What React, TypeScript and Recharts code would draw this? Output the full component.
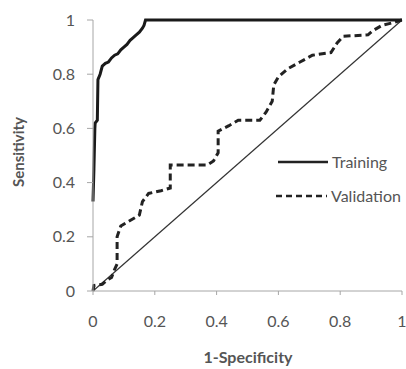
import React from "react";
import { LineChart, Line, XAxis, YAxis } from "recharts";

// ROC curve points (1-specificity, sensitivity)
const trainingX = [0, 0.003, 0.006, 0.007, 0.014, 0.016, 0.023, 0.03, 0.04, 0.05, 0.06, 0.07, 0.08, 0.09, 0.1, 0.11, 0.12, 0.13, 0.14, 0.15, 0.16, 0.165, 0.17, 1];
const trainingY = [0.33, 0.45, 0.6, 0.62, 0.63, 0.78, 0.8, 0.83, 0.84, 0.845, 0.86, 0.87, 0.875, 0.89, 0.9, 0.91, 0.925, 0.935, 0.945, 0.955, 0.97, 0.98, 1, 1];

const validationX = [0, 0.003, 0.03, 0.045, 0.06, 0.07, 0.078, 0.078, 0.09, 0.12, 0.15, 0.16, 0.18, 0.22, 0.25, 0.25, 0.37, 0.39, 0.405, 0.405, 0.44, 0.47, 0.54, 0.56, 0.58, 0.585, 0.6, 0.63, 0.67, 0.71, 0.77, 0.79, 0.81, 0.89, 0.905, 0.935, 0.97, 1];
const validationY = [0, 0.02, 0.025, 0.04, 0.05, 0.08, 0.1, 0.2, 0.24, 0.26, 0.28, 0.33, 0.36, 0.37, 0.38, 0.465, 0.465, 0.48, 0.51, 0.59, 0.61, 0.63, 0.63, 0.66, 0.7, 0.76, 0.79, 0.82, 0.845, 0.87, 0.88, 0.915, 0.94, 0.945, 0.96, 0.98, 0.99, 1];

const diagonalX = [0, 1];
const diagonalY = [0, 1];

const axisTicks = [0, 0.2, 0.4, 0.6, 0.8, 1];

const toPoints = (xs: number[], ys: number[]) => xs.map((x, i) => ({ x, y: ys[i] }));

const training = toPoints(trainingX, trainingY);
const validation = toPoints(validationX, validationY);
const diagonal = toPoints(diagonalX, diagonalY);

const FONT = "Lato, 'Open Sans', sans-serif";
const TEXT = "#555";
const AXIS = "#a6a6a6";

// legend drawn as an overlay so it doesn't take space from the plot
function LegendBox() {
  return (
    <svg width={140} height={60} style={{ position: "absolute", left: 275, top: 150, display: "block" }}>
      <line x1={3} y1={12} x2={53} y2={12} stroke="#222" strokeWidth={2.5} />
      <text x={57} y={18} fontSize={16} fill={TEXT} fontFamily={FONT}>Training</text>
      <line x1={1} y1={46} x2={52} y2={46} stroke="#222" strokeWidth={2.5} strokeDasharray="6 4" />
      <text x={56} y={52} fontSize={16} fill={TEXT} fontFamily={FONT}>Validation</text>
    </svg>
  );
}

export default function App() {
  return (
    <div style={{ position: "absolute", left: 0, top: 0, width: 406, height: 369, background: "#fff" }}>
      <LineChart width={406} height={369} margin={{ top: 20, right: 4, bottom: 48, left: 0 }}>
        <XAxis
          type="number"
          dataKey="x"
          domain={[0, 1]}
          ticks={axisTicks}
          height={30}
          stroke={AXIS}
          tickSize={4}
          tickMargin={21}
          tick={{ fill: TEXT, fontSize: 16, fontFamily: FONT }}
          allowDuplicatedCategory={false}
          label={{
            content: () => (
              <text x={248} y={363} textAnchor="middle" fontSize={16} fontWeight="bold" fill={TEXT} fontFamily={FONT}>
                1-Specificity
              </text>
            ),
          }}
        />
        <YAxis
          type="number"
          dataKey="y"
          domain={[0, 1]}
          ticks={axisTicks}
          width={93}
          stroke={AXIS}
          tickSize={6}
          tickMargin={12}
          tick={{ fill: TEXT, fontSize: 16, fontFamily: FONT }}
          label={{
            content: () => (
              <text x={18} y={152} transform="rotate(-90 18 152)" textAnchor="middle" dominantBaseline="central" fontSize={15} fontWeight="bold" fill={TEXT} fontFamily={FONT}>
                Sensitivity
              </text>
            ),
          }}
        />
        <Line data={diagonal} dataKey="y" type="linear" stroke="#333" strokeWidth={1.2} dot={false} isAnimationActive={false} legendType="none" />
        <Line data={validation} dataKey="y" name="Validation" type="linear" stroke="#222" strokeWidth={3} strokeDasharray="7 4" dot={false} isAnimationActive={false} />
        <Line data={training} dataKey="y" name="Training" type="linear" stroke="#1a1a1a" strokeWidth={3} dot={false} isAnimationActive={false} />
      </LineChart>
      <LegendBox />
    </div>
  );
}
